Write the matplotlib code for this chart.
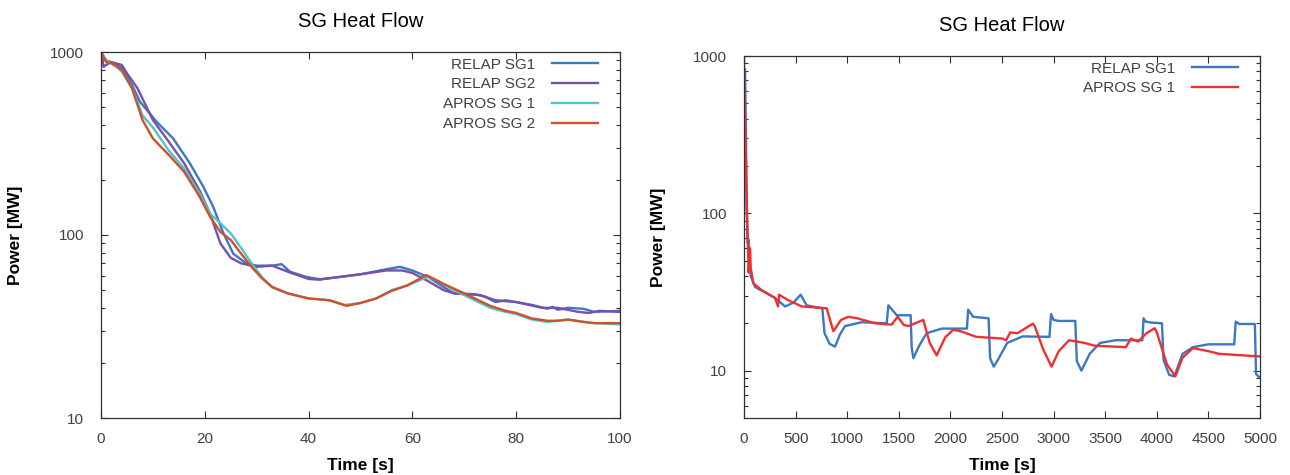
import matplotlib
matplotlib.use("Agg")
import matplotlib.pyplot as plt
from matplotlib.ticker import LogLocator, NullFormatter, FixedLocator, FixedFormatter

plt.rcParams['font.family'] = ['Liberation Sans', 'DejaVu Sans']

# ---------------- Left chart data (0-100 s) ----------------
t_relap1 = [0, 1, 2, 4, 6, 7.5, 10.7, 13.9, 17.1, 19.7, 21.6, 23.6, 25.5, 28, 30, 33, 34.8, 36.4,
            39.6, 42.2, 46, 50, 55, 57.6, 60, 63, 66, 68, 72, 74, 76, 78, 80, 83, 86, 87, 88, 90,
            93, 95, 100]
p_relap1 = [1000, 900, 880, 820, 660, 535, 416, 337, 247, 184, 143, 102, 79, 70, 68, 68, 69.3, 63,
            59, 57.3, 59, 61, 65, 67, 64, 59, 52, 48, 47.5, 46, 43, 44, 43, 41.5, 39.5, 40.5, 39, 40,
            39.5, 38, 38.5]

t_relap2 = [0, 0.5, 1, 2, 4, 5, 7, 10, 13, 16, 19, 21, 23, 25, 27, 30, 33, 36, 40, 42, 46, 50, 55,
            58, 60, 63, 66, 68, 70, 73, 76, 80, 85, 88, 92, 94, 96, 100]
p_relap2 = [1000, 830, 850, 880, 850, 765, 636, 425, 325, 247, 175, 131, 90, 75, 70, 67, 68, 63,
            57.5, 57, 59, 61, 64, 64, 62, 56, 50, 48, 47.5, 47, 44, 43, 40, 40, 38, 37.5, 38.5, 38]

t_apros1 = [0, 1, 3, 4, 6, 8, 10, 13, 16, 19, 21, 23, 25, 27, 29, 31, 33, 36, 40, 44, 47, 50, 53,
            56, 59, 62, 63, 65, 68, 72, 75, 78, 80, 83, 86, 88, 90, 93, 95, 100]
p_apros1 = [1000, 900, 830, 780, 636, 450, 387, 291, 231, 169, 131, 116, 102, 85, 70, 59, 51.6,
            47.9, 45, 44, 41.5, 42.5, 45, 50, 53, 57.5, 59, 56, 50, 44, 40, 38, 37, 34.5, 33.5, 34,
            34.5, 33.5, 33, 32.5]

t_apros2 = [0, 1, 2, 4, 6, 8, 10, 13, 16, 19, 21, 23, 25, 27, 29, 31, 33, 36, 40, 44, 47.3, 50, 53,
            56, 59, 62.7, 66, 70, 72, 75, 78, 80, 83, 86, 88, 90, 93, 95, 100]
p_apros2 = [1000, 880, 870, 800, 630, 425, 337, 275, 222, 162, 126, 104, 94, 79, 67, 58, 52, 48, 45,
            44, 41, 42.5, 45, 49.5, 53, 60.4, 54, 48, 45, 41, 38.5, 37.5, 35, 34, 34, 34.5, 33.5,
            33, 33]

# ---------------- Right chart data (0-5000 s) ----------------
t_r_relap = [0, 10, 19, 25, 35, 45, 55, 65, 107, 220, 300, 397, 478, 549, 607, 759, 780, 830, 882,
             930, 979, 1140, 1383, 1399, 1480, 1615, 1625, 1641, 1700, 1770, 1916, 2160, 2172, 2220,
             2370, 2385, 2420, 2460, 2550, 2700, 2960, 2975, 3000, 3050, 3210, 3225, 3270, 3350,
             3450, 3600, 3860, 3872, 3890, 3950, 4050, 4065, 4120, 4170, 4250, 4350, 4500, 4750,
             4765, 4800, 4950, 4962, 5000]
p_r_relap = [820, 824, 304, 110, 65, 68, 50, 40, 34, 31, 29, 25.6, 27, 30.4, 26, 24.9, 17.3, 14.8,
             14.2, 17, 19.2, 20.3, 20, 26, 22.5, 22.5, 14, 12, 14.5, 17.3, 18.5, 18.5, 24.4, 22,
             21.5, 12, 10.6, 11.7, 15, 16.5, 16.4, 22.9, 21, 20.7, 20.7, 11.5, 10, 12.8,
             15, 15.6, 15.6, 21.5, 20.5, 20.2, 20, 11.7, 9.4, 9.2, 12.8, 14.1, 14.7, 14.7,
             20.5, 19.8, 19.8, 9.5, 9]

t_r_apros = [0, 0, 10, 18, 28, 45, 58, 65, 90, 171, 300, 330, 340, 430, 559, 801, 866, 940, 1011,
             1100, 1270, 1430, 1489, 1550, 1592, 1737, 1800, 1867, 1950, 2028, 2100, 2250, 2500,
             2540, 2580, 2650, 2800, 2820, 2900, 2980, 3050, 3150, 3300, 3400, 3700, 3750, 3820,
             3900, 3980, 4000, 4100, 4180, 4250, 4350, 4500, 4600, 5000]
p_r_apros = [1000, 729, 400, 240, 110, 42, 60, 45, 35.9, 32.5, 29, 25.6, 30.4, 28, 25.6, 24.9, 17.8,
             21, 22, 21.5, 20, 19.6, 22, 19.5, 19.2, 21, 15, 12.5, 16.3, 18.2, 17.8, 16.4, 16,
             15.6, 17.5, 17.3, 19.9, 19, 13.6, 10.6, 13.3, 15.6, 15, 14.4, 14.1, 16, 15.3,
             17.3, 18.6, 17.5, 10.9, 9.2, 12.1, 13.9, 13.3, 12.8, 12.3]

left_xticks = [0, 20, 40, 60, 80, 100]
right_xticks = [0, 500, 1000, 1500, 2000, 2500, 3000, 3500, 4000, 4500, 5000]
y_ticks = [10, 100, 1000]
y_ticklabels = ['10', '100', '1000']

TEXT_GRAY = '#404040'
SPINE = '#303030'

fig = plt.figure(figsize=(12.9, 4.75), dpi=100)
axL = fig.add_axes([101/1290, 1-418/475, 519/1290, 366/475])
axR = fig.add_axes([744/1290, 1-418/475, 516/1290, 362/475])


def style(ax, xlim, ylim, xticks):
    ax.set_yscale('log')
    ax.set_xlim(*xlim)
    ax.set_ylim(*ylim)
    ax.xaxis.set_major_locator(FixedLocator(xticks))
    ax.yaxis.set_major_locator(FixedLocator(y_ticks))
    ax.yaxis.set_major_formatter(FixedFormatter(y_ticklabels))
    ax.yaxis.set_minor_locator(LogLocator(base=10, subs=range(2, 10)))
    ax.yaxis.set_minor_formatter(NullFormatter())
    ax.tick_params(which='both', direction='in', top=True, right=True, colors=SPINE,
                   labelcolor=TEXT_GRAY, labelsize=11, width=0.8)
    ax.tick_params(which='major', length=5)
    ax.tick_params(which='minor', length=3)
    ax.tick_params(axis='y', which='major', pad=12)
    ax.tick_params(axis='x', which='major', pad=10)
    for s in ax.spines.values():
        s.set_color(SPINE)
        s.set_linewidth(0.9)
    ax.set_xlabel('Time [s]', fontsize=12.5, fontweight='bold', labelpad=9)
    ax.set_ylabel('Power [MW]', fontsize=12.5, fontweight='bold', labelpad=20)
    ax.set_title('SG Heat Flow', fontsize=14.5, pad=18)


lw = 1.7
axL.plot(t_relap1, p_relap1, color='#3a78c3', lw=lw, label='RELAP SG1')
axL.plot(t_relap2, p_relap2, color='#7b4fa8', lw=lw, label='RELAP SG2')
axL.plot(t_apros1, p_apros1, color='#4cc4d0', lw=lw, label='APROS SG 1')
axL.plot(t_apros2, p_apros2, color='#d0502a', lw=lw, label='APROS SG 2')
style(axL, (0, 100), (10, 1000), left_xticks)

axR.plot(t_r_relap, p_r_relap, color='#3a78c3', lw=lw, label='RELAP SG1')
axR.plot(t_r_apros, p_r_apros, color='#ee3030', lw=lw, label='APROS SG 1')
style(axR, (0, 5000), (5, 1000), right_xticks)

for ax in (axL, axR):
    leg = ax.legend(loc='upper right', bbox_to_anchor=(0.975, 1.01), frameon=False,
                    markerfirst=False, fontsize=11, handlelength=3.0, handletextpad=1.1,
                    labelspacing=0.38, borderaxespad=0.2)
    for txt in leg.get_texts():
        txt.set_color(TEXT_GRAY)

fig.savefig('out.png', dpi=100)
